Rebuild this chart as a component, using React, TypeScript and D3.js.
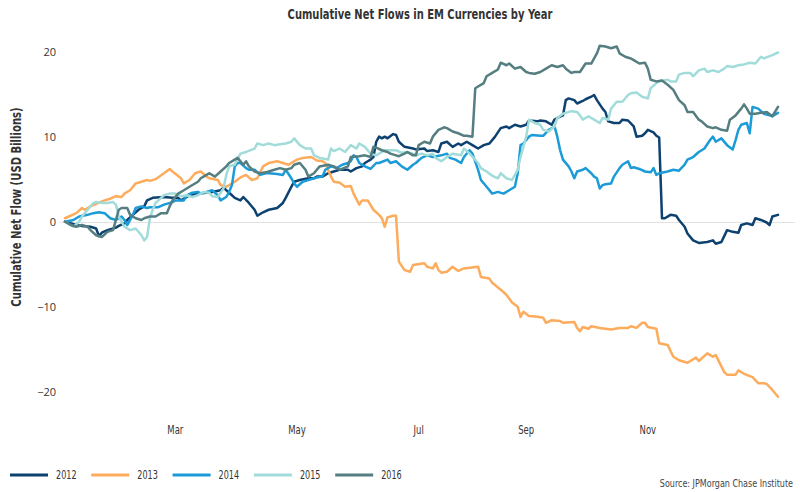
import React from "react";
import * as d3 from "d3";

// trading-day index (0..252) and cumulative flow in USD billions
const flows2012: [number, number][] = [
  [0, 0.1], [4, -0.3], [6, -0.4], [9, -0.5], [11, -0.7], [12, -1.6], [13, -1.2], [15, -0.9], [18, -0.6], [19, -0.4],
  [21, -0.1], [22, 0.3], [24, 0.9], [26, 1.5], [28, 1.9], [29, 2.6], [31, 2.9], [35, 3.0], [38, 2.9], [40, 2.9],
  [41, 2.6], [43, 3.0], [44, 3.2], [47, 3.4], [50, 3.5], [52, 3.6], [55, 3.8], [56, 4.1], [58, 3.5], [59, 3.2],
  [60, 2.9], [62, 2.6], [63, 3.0], [65, 2.3], [67, 1.5], [68, 0.8], [70, 1.2], [72, 1.5], [75, 1.7], [77, 2.3],
  [78, 2.9], [80, 4.2], [81, 4.8], [83, 5.0], [86, 5.2], [88, 5.2], [89, 5.4], [91, 5.4], [93, 5.8], [95, 6.0],
  [97, 6.2], [100, 6.2], [101, 6.0], [103, 6.4], [105, 6.6], [106, 7.0], [107, 7.2], [108, 7.4], [109, 7.7], [110, 9.5],
  [111, 10.1], [112, 9.9], [113, 10.1], [114, 9.9], [116, 10.4], [117, 10.3], [118, 9.5], [120, 8.9], [123, 8.7], [124, 8.6],
  [127, 8.7], [128, 8.4], [130, 8.5], [132, 8.3], [133, 9.3], [135, 9.5], [137, 8.9], [139, 9.3], [140, 9.1], [142, 9.5],
  [144, 9.1], [146, 8.7], [148, 9.1], [150, 9.3], [152, 10.1], [154, 11.1], [156, 11.3], [157, 11.1], [159, 11.5], [161, 11.3],
  [163, 11.5], [164, 12.0], [167, 11.9], [168, 12.0], [170, 11.9], [172, 11.5], [173, 12.1], [174, 12.3], [176, 12.6], [177, 14.4],
  [178, 14.6], [180, 14.4], [181, 14.0], [183, 14.3], [184, 14.5], [186, 14.8], [187, 15.0], [188, 14.4], [190, 13.4], [191, 13.0],
  [192, 11.9], [194, 11.7], [196, 11.7], [197, 12.1], [199, 12.0], [201, 11.3], [202, 10.1], [204, 10.2], [205, 10.5], [206, 10.9],
  [208, 10.6], [209, 10.2], [210, 10.0], [211, 0.5], [212, 0.5], [214, 0.9], [216, 0.8], [217, 0.3], [219, -0.5], [220, -1.3],
  [222, -2.1], [224, -2.4], [227, -2.3], [229, -2.1], [230, -2.5], [232, -2.3], [234, -0.9], [236, -1.1], [238, -1.2], [239, -0.3],
  [241, -0.1], [243, -0.3], [244, 0.5], [246, 0.3], [248, 0.0], [249, -0.3], [250, 0.7], [252, 0.9],
];

const flows2013: [number, number][] = [
  [0, 0.5], [4, 1.1], [6, 1.7], [7, 1.5], [9, 1.9], [11, 2.2], [14, 2.6], [16, 2.8], [18, 3.1], [20, 3.0],
  [21, 3.4], [23, 3.8], [25, 4.6], [27, 4.8], [29, 5.0], [30, 4.9], [32, 5.1], [35, 5.8], [37, 6.3], [38, 6.0],
  [41, 5.2], [42, 4.6], [44, 5.0], [46, 5.8], [48, 6.0], [50, 5.4], [51, 5.2], [54, 5.0], [55, 4.4], [57, 4.2],
  [60, 4.8], [62, 5.3], [64, 5.6], [66, 5.0], [68, 5.2], [70, 6.6], [72, 7.0], [75, 7.2], [77, 7.0], [79, 6.8],
  [82, 7.4], [84, 7.6], [87, 7.7], [89, 7.3], [91, 7.2], [92, 7.0], [94, 5.4], [95, 4.8], [97, 4.7], [99, 4.2],
  [101, 4.3], [102, 3.4], [104, 2.1], [105, 2.6], [107, 2.6], [109, 1.5], [111, 0.9], [112, 0.5], [113, -0.5], [114, 0.6],
  [116, 0.8], [117, 0.8], [118, -4.6], [120, -5.6], [122, -5.8], [123, -5.0], [127, -4.8], [128, -5.2], [130, -5.4], [131, -4.8],
  [132, -5.6], [133, -5.9], [135, -5.8], [137, -5.2], [139, -5.7], [141, -5.4], [146, -5.2], [147, -6.4], [150, -6.6], [151, -7.1],
  [154, -7.9], [156, -8.5], [158, -9.4], [160, -9.9], [161, -11.1], [162, -10.5], [164, -11.0], [167, -11.1], [169, -11.2], [170, -11.8],
  [172, -11.5], [175, -11.6], [176, -11.8], [180, -11.7], [181, -12.4], [182, -12.8], [183, -12.3], [185, -12.5], [186, -12.2], [189, -12.4],
  [193, -12.6], [196, -12.4], [199, -12.4], [200, -12.2], [202, -12.4], [204, -11.8], [205, -11.8], [206, -12.3], [209, -12.5], [210, -14.2],
  [213, -14.4], [215, -15.8], [217, -16.2], [220, -16.5], [223, -15.9], [224, -16.3], [227, -15.4], [229, -15.8], [230, -15.6], [233, -17.6],
  [234, -17.9], [237, -17.9], [238, -17.4], [240, -17.8], [243, -18.2], [245, -18.9], [247, -18.9], [248, -19.0], [250, -19.7], [252, -20.5],
];

const flows2014: [number, number][] = [
  [0, 0.1], [3, 0.3], [5, 0.7], [8, 0.9], [10, 1.1], [12, 1.2], [14, 1.1], [16, 0.5], [18, 0.3], [20, 0.7],
  [21, 0.3], [22, -0.3], [23, 0.3], [24, 0.9], [25, 1.7], [27, 1.9], [29, 1.7], [30, 1.8], [33, 1.8], [35, 2.1],
  [38, 2.4], [39, 2.6], [42, 2.6], [43, 3.2], [45, 3.5], [47, 3.6], [48, 3.4], [50, 3.6], [52, 3.8], [54, 3.2],
  [55, 2.6], [57, 3.0], [58, 3.6], [59, 4.4], [60, 6.6], [61, 7.0], [62, 7.0], [64, 6.4], [65, 6.2], [67, 6.2],
  [69, 5.6], [71, 5.8], [72, 5.8], [75, 5.7], [77, 5.6], [78, 6.2], [80, 5.2], [81, 4.6], [82, 4.2], [84, 4.8],
  [86, 5.0], [88, 5.2], [89, 5.3], [91, 5.4], [92, 6.2], [94, 6.6], [96, 6.4], [98, 6.8], [100, 7.0], [101, 7.2],
  [102, 7.9], [103, 7.7], [104, 7.0], [106, 6.6], [108, 6.3], [110, 7.0], [111, 7.0], [114, 7.4], [115, 7.0], [117, 7.2],
  [119, 6.6], [121, 6.2], [123, 6.8], [124, 7.0], [126, 7.6], [128, 7.9], [130, 7.7], [133, 7.9], [135, 8.1], [136, 7.6],
  [138, 7.4], [140, 7.0], [141, 7.7], [143, 8.5], [144, 8.1], [146, 6.2], [147, 5.0], [149, 4.2], [151, 3.4], [153, 3.6],
  [155, 3.4], [157, 3.8], [159, 4.2], [160, 5.8], [161, 9.1], [162, 9.3], [164, 10.1], [165, 10.3], [168, 10.2], [169, 10.2],
  [171, 10.9], [173, 11.3], [174, 10.1], [175, 8.5], [176, 7.4], [178, 6.6], [179, 6.0], [180, 5.2], [181, 6.0], [183, 6.2],
  [184, 6.4], [186, 5.8], [187, 5.4], [188, 5.2], [189, 4.0], [190, 4.4], [191, 4.5], [193, 4.6], [194, 5.4], [196, 6.4],
  [197, 6.8], [199, 7.2], [200, 6.4], [201, 6.5], [203, 6.3], [205, 6.0], [207, 5.9], [208, 6.4], [209, 5.6], [210, 5.8],
  [213, 6.0], [215, 6.2], [217, 6.1], [219, 6.8], [220, 7.4], [222, 7.7], [224, 8.3], [226, 8.7], [228, 9.7], [229, 10.1],
  [230, 9.5], [232, 9.9], [234, 9.1], [236, 8.6], [237, 9.7], [238, 10.9], [239, 11.5], [241, 11.7], [242, 10.5], [243, 13.6],
  [245, 13.4], [247, 12.8], [249, 12.6], [250, 12.5], [252, 12.9],
];

const flows2015: [number, number][] = [
  [0, 0.1], [3, -0.5], [5, 0.1], [6, 0.7], [8, 1.5], [10, 2.3], [11, 2.4], [13, 2.3], [15, 2.3], [17, 2.4],
  [18, 2.1], [19, 0.7], [21, -0.5], [23, -0.9], [25, -0.7], [27, -1.5], [28, -2.1], [29, -1.7], [30, 0.5], [31, 1.5],
  [32, 2.3], [33, 2.6], [35, 3.2], [37, 3.4], [39, 3.4], [41, 3.1], [43, 3.2], [45, 3.0], [47, 3.2], [49, 3.6],
  [51, 3.5], [52, 3.1], [54, 3.0], [56, 4.0], [57, 5.6], [58, 6.6], [60, 6.8], [62, 8.1], [64, 8.3], [67, 8.7],
  [68, 9.3], [70, 9.1], [72, 9.3], [74, 9.1], [76, 9.2], [78, 9.3], [80, 9.5], [81, 9.9], [83, 9.1], [85, 8.7],
  [87, 8.7], [88, 7.9], [90, 7.6], [93, 7.4], [94, 8.7], [95, 8.4], [97, 8.7], [99, 8.3], [101, 9.1], [103, 8.7],
  [104, 9.3], [106, 8.9], [108, 8.1], [110, 7.9], [113, 8.5], [115, 8.5], [117, 8.5], [119, 8.2], [121, 8.3], [123, 8.1],
  [124, 7.9], [126, 8.1], [128, 7.9], [130, 8.1], [131, 7.6], [133, 7.2], [135, 7.7], [137, 8.1], [140, 7.9], [141, 8.7],
  [143, 8.1], [146, 7.0], [147, 6.4], [149, 6.0], [151, 5.5], [153, 5.2], [154, 5.8], [156, 5.2], [158, 5.0], [160, 6.2],
  [161, 7.7], [163, 10.1], [164, 12.1], [166, 11.7], [168, 11.5], [169, 10.9], [171, 10.7], [173, 11.3], [174, 12.3], [176, 12.8],
  [179, 13.1], [181, 13.0], [182, 12.6], [183, 12.1], [185, 12.5], [187, 12.1], [189, 11.7], [190, 12.3], [192, 12.1], [193, 13.4],
  [195, 14.2], [197, 14.2], [199, 15.0], [200, 15.2], [202, 15.3], [204, 14.8], [206, 14.6], [207, 15.8], [209, 16.4], [210, 16.6],
  [213, 16.8], [214, 16.6], [216, 16.6], [217, 17.4], [219, 17.6], [221, 17.6], [222, 17.2], [224, 17.9], [226, 18.1], [227, 17.7],
  [229, 17.9], [231, 17.7], [233, 18.1], [234, 18.4], [236, 18.3], [238, 18.5], [240, 18.6], [242, 18.8], [244, 18.7], [246, 19.5],
  [247, 19.3], [250, 19.7], [252, 20.0],
];

const flows2016: [number, number][] = [
  [0, 0.1], [2, -0.3], [4, -0.5], [6, -0.3], [8, -0.5], [9, -0.9], [11, -1.5], [13, -1.7], [15, -1.1], [17, -0.9],
  [18, 0.3], [19, 1.5], [20, 1.7], [22, 1.7], [23, 0.9], [25, 0.5], [27, 0.3], [28, 0.5], [30, 0.7], [32, 0.7],
  [34, 1.1], [36, 1.1], [37, 1.9], [38, 2.6], [40, 3.4], [42, 3.8], [44, 4.2], [47, 4.8], [48, 5.2], [50, 5.6],
  [51, 5.8], [53, 5.4], [55, 6.0], [57, 6.6], [58, 7.0], [60, 7.4], [61, 7.6], [63, 6.8], [64, 7.2], [65, 6.6],
  [67, 6.0], [69, 5.8], [71, 5.9], [72, 6.0], [74, 6.2], [76, 6.4], [78, 6.2], [80, 6.4], [81, 6.8], [83, 7.0],
  [85, 6.2], [86, 5.4], [88, 5.8], [90, 6.6], [93, 6.8], [95, 6.6], [97, 6.2], [100, 6.6], [101, 7.7], [104, 7.8],
  [106, 7.9], [108, 7.7], [109, 8.9], [110, 8.8], [112, 8.5], [114, 8.3], [115, 8.1], [117, 7.9], [118, 7.8], [120, 8.1],
  [121, 8.3], [123, 7.9], [124, 7.9], [125, 9.1], [127, 9.5], [129, 9.3], [130, 10.1], [132, 10.9], [134, 11.2], [135, 11.1],
  [137, 10.7], [139, 10.5], [141, 10.2], [142, 10.2], [144, 10.1], [145, 15.8], [146, 16.0], [148, 16.4], [149, 17.2], [151, 17.6],
  [153, 18.0], [154, 18.8], [156, 18.5], [157, 18.7], [159, 18.1], [161, 18.3], [163, 17.7], [164, 17.6], [166, 17.5], [168, 17.7],
  [170, 18.1], [172, 18.5], [174, 18.3], [176, 18.5], [177, 18.1], [179, 17.6], [180, 17.7], [182, 17.7], [184, 18.7], [186, 18.7],
  [187, 19.3], [188, 19.9], [189, 20.8], [191, 20.7], [193, 20.5], [195, 20.7], [196, 19.9], [198, 19.5], [200, 19.3], [201, 19.1],
  [203, 18.7], [205, 18.8], [206, 18.1], [207, 16.8], [209, 16.6], [211, 16.7], [213, 16.2], [215, 15.6], [217, 14.4], [219, 13.8],
  [220, 13.0], [222, 13.0], [224, 12.1], [225, 11.9], [227, 11.3], [229, 11.1], [230, 11.2], [232, 10.9], [234, 10.8], [235, 12.1],
  [237, 12.6], [239, 13.4], [240, 13.9], [241, 13.4], [242, 12.8], [244, 12.8], [246, 12.9], [248, 13.0], [250, 12.5], [252, 13.6],
];

const years = ["2012", "2013", "2014", "2015", "2016"];
const seriesData = [flows2012, flows2013, flows2014, flows2015, flows2016];
const colors = ["#0d4170", "#fdab5c", "#1b9bd7", "#a1dcda", "#557e80"];

const monthLabels = ["Mar", "May", "Jul", "Sep", "Nov"];
const monthTickDays = [39, 82, 125, 163, 206];
const yTicks = [-20, -10, 0, 10, 20];

const W = 800;
const H = 492;
const condensed = "'DejaVu Sans Condensed', 'Liberation Sans Narrow', sans-serif";

// squeezed text, the reference uses a narrow face we don't have
function Narrow({ x, y, sx = 0.8, anchor = "start", size = 11.5, bold = false, fill = "#333", children }: any) {
  return (
    <text
      transform={`translate(${x},${y}) scale(${sx},1)`}
      textAnchor={anchor}
      dy="0.35em"
      fontFamily={condensed}
      fontWeight={bold ? "bold" : "normal"}
      fontSize={size}
      fill={fill}
    >
      {children}
    </text>
  );
}

export default function App() {
  const x = d3.scaleLinear().domain([0, 252]).range([65, 778]);
  const y = d3.scaleLinear().domain([-20, 20]).range([392.5, 52.5]);
  const line = d3
    .line<[number, number]>()
    .x((d) => x(d[0]))
    .y((d) => y(d[1]));

  return (
    <div style={{ position: "absolute", left: 0, top: 0 }}>
      <svg width={W} height={H} style={{ display: "block", background: "#fff" }}>
        <Narrow x={420} y={14} sx={0.82} anchor="middle" size={13.5} bold>
          Cumulative Net Flows in EM Currencies by Year
        </Narrow>

        <line x1={60} x2={795} y1={y(0)} y2={y(0)} stroke="#e2e2e2" strokeWidth={1} />

        {yTicks.map((t) => (
          <text key={t} x={56} y={y(t)} dy="0.35em" textAnchor="end" fontFamily="'Open Sans', sans-serif" fontSize={11} fill="#333">
            {t < 0 ? "\u2212" + Math.abs(t) : t}
          </text>
        ))}

        <text
          transform={`translate(16,207) rotate(-90) scale(0.83,1)`}
          dy="0.35em"
          textAnchor="middle"
          fontFamily={condensed}
          fontWeight="bold"
          fontSize={13.5}
          fill="#333"
        >
          Cumulative Net Flow (USD Billions)
        </text>

        {monthLabels.map((m, i) => (
          <Narrow key={m} x={x(monthTickDays[i])} y={430} sx={0.82} anchor="middle" size={11.5}>
            {m}
          </Narrow>
        ))}

        {seriesData.map((s, i) => (
          <path
            key={years[i]}
            d={line(s) || ""}
            fill="none"
            stroke={colors[i]}
            strokeWidth={2.5}
            strokeLinejoin="round"
            strokeLinecap="round"
          />
        ))}

        {years.map((yr, i) => {
          const lx = 10 + i * 81.3;
          return (
            <g key={yr}>
              <line x1={lx} x2={lx + 38} y1={475} y2={475} stroke={colors[i]} strokeWidth={3} />
              <Narrow x={lx + 46} y={475} sx={0.78} size={11.5}>
                {yr}
              </Narrow>
            </g>
          );
        })}

        <Narrow x={793} y={483} sx={0.85} anchor="end" size={10.5} fill="#444">
          Source: JPMorgan Chase Institute
        </Narrow>
      </svg>
    </div>
  );
}
